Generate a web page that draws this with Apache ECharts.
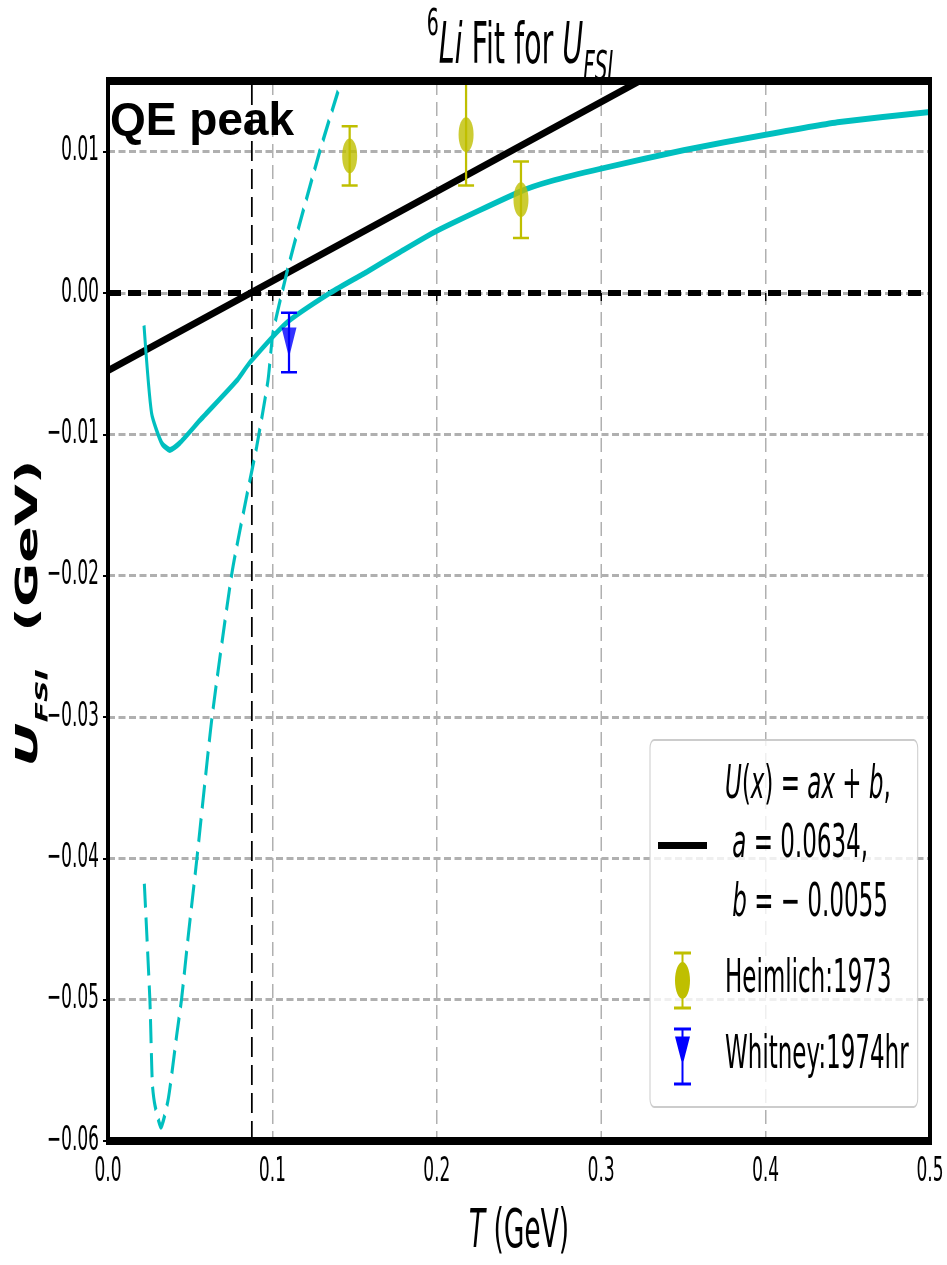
<!DOCTYPE html>
<html>
<head>
<meta charset="utf-8">
<script src="https://cdn.jsdelivr.net/npm/echarts@6.0.0/dist/echarts.min.js"></script>
<style>
  html, body { margin: 0; padding: 0; background: #fff; overflow: hidden; }
  #frame { width: 947px; height: 1265px; overflow: hidden; position: relative; }
  /* the figure is laid out twice as wide and compressed horizontally */
  #chart { width: 1894px; height: 1265px; transform: scaleX(0.5); transform-origin: 0 0; }
</style>
</head>
<body>
<div id="frame"><div id="chart"></div></div>
<script>
// Axis ticks
const xTicks = [0.0, 0.1, 0.2, 0.3, 0.4, 0.5];
const yTicks = [-0.06, -0.05, -0.04, -0.03, -0.02, -0.01, 0.00, 0.01];
const yTop = 0.015;

// Linear fit U(x) = a x + b
const fitA = 0.0634;
const fitB = -0.0055;
const fitName = 'linearFit';

// QE peak position (GeV)
const qePeakT = 0.0875;

// Solid cyan curve
const solidT = [0.0219, 0.0265, 0.0326, 0.0377, 0.0438, 0.056, 0.0783, 0.0864, 0.1087, 0.135, 0.1575, 0.1776, 0.2, 0.2512, 0.2689, 0.3, 0.35, 0.4, 0.445, 0.5];
const solidU = [-0.0023, -0.0085, -0.0106, -0.0111, -0.0106, -0.0090, -0.0062, -0.0049, -0.0021, 0.0000, 0.0015, 0.0029, 0.0044, 0.0072, 0.0079, 0.0088, 0.0101, 0.0112, 0.0121, 0.0128];

// Dashed cyan curve
const dashT = [0.0221, 0.0255, 0.027, 0.0286, 0.0322, 0.0367, 0.0418, 0.0448, 0.0489, 0.0539, 0.0633, 0.0754, 0.085, 0.0904, 0.0973, 0.1004, 0.1087, 0.1168, 0.129, 0.140];
const dashU = [-0.0418, -0.0501, -0.0560, -0.0575, -0.0590, -0.0570, -0.0525, -0.0499, -0.0454, -0.0402, -0.0300, -0.0198, -0.0140, -0.0109, -0.0062, -0.0028, 0.0014, 0.0050, 0.0101, 0.0143];

// Heimlich:1973
const heimName = 'Heimlich:1973';
const heimT = [0.147, 0.2178, 0.2512];
const heimU = [0.0097, 0.0112, 0.0066];
const heimErr = [0.0021, 0.0036, 0.0027];

// Whitney:1974hr
const whitName = 'Whitney:1974hr';
const whitT = [0.1101];
const whitU = [-0.0035];
const whitErr = [0.0021];

const CYAN = '#00bfbf', OLIVE = '#bfbf00', BLUE = '#0000ff';
const FONT = '"DejaVu Sans", "Liberation Sans", sans-serif';

const pairs = (xs, ys) => xs.map((x, i) => [x, ys[i]]);

function errorBars(name, color, T, U, E) {
  return {
    type: 'custom', name: name, silent: true, z: 4,
    data: T.map((t, i) => [t, U[i] - E[i], U[i] + E[i]]),
    encode: { x: 0, y: [1, 2] },
    renderItem(params, api) {
      const lo = api.coord([api.value(0), api.value(1)]);
      const hi = api.coord([api.value(0), api.value(2)]);
      const half = 16;
      return {
        type: 'group',
        children: [
          { type: 'line', shape: { x1: lo[0], y1: lo[1], x2: hi[0], y2: hi[1] }, style: { stroke: color, lineWidth: 4.5 } },
          { type: 'line', shape: { x1: lo[0] - half, y1: lo[1], x2: lo[0] + half, y2: lo[1] }, style: { stroke: color, lineWidth: 2.5 } },
          { type: 'line', shape: { x1: hi[0] - half, y1: hi[1], x2: hi[0] + half, y2: hi[1] }, style: { stroke: color, lineWidth: 2.5 } }
        ]
      };
    }
  };
}

const heimIcon = 'path://M0,0H34V3H0Z M15,0H19V58H15Z M0,55H34V58H0Z M2,29A15,18.5 0 1,1 32,29A15,18.5 0 1,1 2,29Z';
const whitIcon = 'path://M0,0H34V3H0Z M15,0H19V58H15Z M0,55H34V58H0Z M2,9H32L17,38Z';

const fmtY = v => {
  const r = Math.round(v * 100) / 100;
  return (r < 0 ? '\u2212' : '') + Math.abs(r).toFixed(2);
};

const chart = echarts.init(document.getElementById('chart'), null, { renderer: 'canvas' });

chart.setOption({
  animation: false,
  backgroundColor: '#ffffff',
  title: {
    text: '{sup|6}{it|Li}{n| Fit for }{it|U}{sub|FSI}',
    left: 1040, top: 6, padding: 0, textAlign: 'center',
    textStyle: {
      fontWeight: 'normal',
      rich: {
        n:   { fontFamily: FONT, fontSize: 57, fontWeight: 'normal', lineHeight: 84, verticalAlign: 'middle', color: '#000' },
        it:  { fontFamily: FONT, fontSize: 57, fontWeight: 'normal', lineHeight: 84, verticalAlign: 'middle', fontStyle: 'italic', color: '#000' },
        sup: { fontFamily: FONT, fontSize: 38, fontWeight: 'normal', lineHeight: 38, verticalAlign: 'top', color: '#000' },
        sub: { fontFamily: FONT, fontSize: 40, fontWeight: 'normal', lineHeight: 40, verticalAlign: 'bottom', fontStyle: 'italic', color: '#000' }
      }
    }
  },
  grid: {
    left: 216, right: 34, top: 81, bottom: 124, z: 10,
    show: true, borderColor: '#000', borderWidth: 8, backgroundColor: 'transparent',
    containLabel: false, outerBoundsMode: 'none'
  },
  xAxis: {
    type: 'value',
    min: xTicks[0], max: xTicks[xTicks.length - 1], interval: xTicks[1] - xTicks[0],
    axisLine: { show: false },
    axisTick: { show: true, length: 8, lineStyle: { color: '#000', width: 3 } },
    axisLabel: { formatter: v => v.toFixed(1), fontFamily: FONT, fontSize: 34, color: '#000', margin: 14 },
    splitLine: { show: true, lineStyle: { color: '#b0b0b0', width: 3, type: [14, 7] } },
    name: '{it|T} (GeV)',
    nameLocation: 'middle', nameGap: 66,
    nameTextStyle: {
      fontFamily: FONT, fontSize: 53, color: '#000',
      rich: { it: { fontFamily: FONT, fontSize: 53, fontStyle: 'italic', color: '#000' } }
    }
  },
  yAxis: {
    type: 'value',
    min: yTicks[0], max: yTop, interval: 0.01,
    axisLine: { show: false },
    axisTick: { show: true, length: 10, lineStyle: { color: '#000', width: 2 } },
    axisLabel: { formatter: fmtY, showMaxLabel: false, fontFamily: FONT, fontSize: 34, color: '#000', margin: 18 },
    splitLine: { show: true, lineStyle: { color: '#b0b0b0', width: 3, type: [14, 7] } }
  },
  legend: {
    orient: 'vertical', left: 1300, top: 740,
    padding: [17, 18, 21, 16],
    itemWidth: 98, itemHeight: 58, itemGap: 17,
    backgroundColor: 'rgba(255,255,255,0.8)', borderColor: '#cccccc', borderWidth: 2, borderRadius: 8,
    selectedMode: false,
    data: [
      { name: fitName, icon: 'path://M0,0H98V7H0Z', itemStyle: { color: '#000', borderWidth: 0 } },
      { name: heimName, icon: heimIcon, itemStyle: { color: OLIVE, borderWidth: 0 } },
      { name: whitName, icon: whitIcon, itemStyle: { color: BLUE, borderWidth: 0 } }
    ],
    formatter: name => name === fitName
      ? '{i|U}({i|x}) = {i|ax} + {i|b},\n {i|a} = ' + fitA.toFixed(4) + ',\n {i|b} = \u2212 ' + Math.abs(fitB).toFixed(4)
      : name,
    textStyle: {
      fontFamily: FONT, fontSize: 46, lineHeight: 59, color: '#000', padding: [0, 0, 0, 31],
      rich: { i: { fontFamily: FONT, fontSize: 46, lineHeight: 59, fontStyle: 'italic', color: '#000' } }
    }
  },
  graphic: [
    {
      type: 'text', x: 58, y: 613, rotation: Math.PI / 2, scaleY: 1.12, z: 50,
      style: {
        text: '{u|U}{s|FSI}{g|  (GeV)}',
        align: 'center', verticalAlign: 'middle',
        rich: {
          u: { fontFamily: FONT, fontSize: 54, fontWeight: 'bold', fontStyle: 'italic', lineHeight: 80, verticalAlign: 'middle', fill: '#000' },
          s: { fontFamily: FONT, fontSize: 30, fontWeight: 'bold', fontStyle: 'italic', lineHeight: 30, verticalAlign: 'bottom', fill: '#000' },
          g: { fontFamily: FONT, fontSize: 54, fontWeight: 'bold', lineHeight: 80, verticalAlign: 'middle', fill: '#000' }
        }
      }
    },
    {
      type: 'text', x: 220, y: 122, scaleX: 2, z: 60,
      style: {
        text: 'QE peak', fill: '#000',
        font: 'bold 46px "Liberation Sans", Arial, sans-serif',
        align: 'left', verticalAlign: 'middle'
      }
    }
  ],
  series: [
    {
      type: 'line', name: 'qePeak', silent: true, symbol: 'none', z: 2,
      data: [[qePeakT, yTicks[0]], [qePeakT, yTop]],
      lineStyle: { color: '#000', width: 3.5, type: [20, 8] }
    },
    {
      type: 'line', name: fitName, silent: true, symbol: 'none', z: 3,
      data: [[xTicks[0], fitA * xTicks[0] + fitB], [xTicks[xTicks.length - 1], fitA * xTicks[xTicks.length - 1] + fitB]],
      lineStyle: { color: '#000', width: 7.5 }
    },
    {
      type: 'line', name: 'zero', silent: true, symbol: 'none', z: 3,
      data: [[xTicks[0], 0], [xTicks[xTicks.length - 1], 0]],
      lineStyle: { color: '#000', width: 6, type: [26, 14] }
    },
    {
      type: 'line', name: 'cyanSolid', silent: true, symbol: 'none', z: 3, smooth: 0.2,
      data: pairs(solidT, solidU),
      lineStyle: { color: CYAN, width: 6 }
    },
    {
      type: 'line', name: 'cyanDashed', silent: true, symbol: 'none', z: 3, smooth: 0.2,
      data: pairs(dashT, dashU),
      lineStyle: { color: CYAN, width: 6, type: [24, 10] }
    },
    errorBars(heimName, OLIVE, heimT, heimU, heimErr),
    {
      type: 'scatter', name: heimName, silent: true, z: 5,
      symbol: 'circle', symbolSize: [30, 35],
      itemStyle: { color: OLIVE },
      data: pairs(heimT, heimU)
    },
    errorBars(whitName, BLUE, whitT, whitU, whitErr),
    {
      type: 'scatter', name: whitName, silent: true, z: 5,
      symbol: 'triangle', symbolRotate: 180, symbolSize: [30, 30],
      itemStyle: { color: BLUE },
      data: pairs(whitT, whitU)
    }
  ]
});
</script>
</body>
</html>
